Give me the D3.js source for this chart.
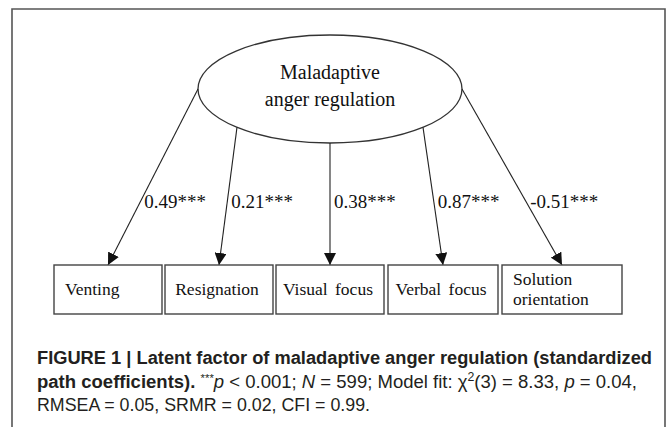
<!DOCTYPE html>
<html><head><meta charset="utf-8">
<script src="https://cdn.jsdelivr.net/npm/d3@7"></script>
<style>html,body{margin:0;padding:0;background:#fff;} svg{display:block;}</style>
</head><body><svg id="c" width="670" height="427"></svg>
<script>
// ---------- data ----------
const latentLabel = ["Maladaptive", "anger regulation"];
const indicators = ["Venting", "Resignation", "Visual focus", "Verbal focus", "Solution orientation"];
const coefficients = [0.49, 0.21, 0.38, 0.87, -0.51];
const significance = ["***", "***", "***", "***", "***"];
const captionLine1 = "FIGURE 1 | Latent factor of maladaptive anger regulation (standardized";
const captionLine3 = "RMSEA = 0.05, SRMR = 0.02, CFI = 0.99.";

// ---------- layout ----------
const svg = d3.select("#c");
const serif = "'Liberation Serif','Times New Roman',serif";
const sans = "'Liberation Sans',Arial,Helvetica,sans-serif";

const ell = {cx: 330, cy: 89, rx: 132, ry: 54};
const boxTop = 265, boxBottom = 314;
const labelY = 208;

const xCenter = d3.scaleOrdinal().domain(indicators).range([108, 219, 330, 443, 562]);
const boxW = d3.scaleOrdinal().domain(indicators).range([108, 108, 108, 110, 120]);
const startAngle = d3.scaleOrdinal().domain(indicators).range([180, 134.8, 90, 45.2, 0]);
const textAnchor = d3.scaleOrdinal().domain(indicators).range(["start", "middle", "middle", "middle", "start"]);
const fmt = d3.formatLocale({decimal: ".", thousands: ",", grouping: [3], currency: ["", ""], minus: "-"}).format(".2f");

// outer frame
svg.append("path")
  .attr("d", "M12,440V9H665V440")
  .attr("fill", "none").attr("stroke", "#555").attr("stroke-width", 1.6);

// arrow marker
svg.append("defs").append("marker")
  .attr("id", "ah").attr("viewBox", "0 -6 12 12")
  .attr("refX", 12).attr("refY", 0)
  .attr("markerWidth", 12).attr("markerHeight", 12)
  .attr("markerUnits", "userSpaceOnUse")
  .attr("orient", "auto")
  .append("path").attr("d", "M0,-6L12,0L0,6Z").attr("fill", "#111");

// latent ellipse
svg.append("ellipse")
  .attr("cx", ell.cx).attr("cy", ell.cy).attr("rx", ell.rx).attr("ry", ell.ry)
  .attr("fill", "#fff").attr("stroke", "#333").attr("stroke-width", 1.3);

svg.selectAll("text.lat").data(latentLabel).join("text")
  .attr("class", "lat")
  .attr("x", ell.cx).attr("y", (d, i) => 79 + i * 27)
  .attr("text-anchor", "middle")
  .attr("font-family", serif).attr("font-size", 20).attr("fill", "#111")
  .text(d => d);

const paths = indicators.map((name, i) => {
  const a = startAngle(name) * Math.PI / 180;
  const x0 = ell.cx + ell.rx * Math.cos(a), y0 = ell.cy + ell.ry * Math.sin(a);
  const x1 = xCenter(name), y1 = boxTop;
  return {name, x0, y0, x1, y1, coef: coefficients[i], sig: significance[i]};
});

// arrows
svg.selectAll("line.path").data(paths).join("line")
  .attr("class", "path")
  .attr("x1", d => d.x0).attr("y1", d => d.y0)
  .attr("x2", d => d.x1).attr("y2", d => d.y1)
  .attr("stroke", "#222").attr("stroke-width", 1.1)
  .attr("marker-end", "url(#ah)");

// coefficient labels
svg.selectAll("text.coef").data(paths).join("text")
  .attr("class", "coef")
  .attr("x", d => d.x0 + (d.x1 - d.x0) * (labelY - 6 - d.y0) / (d.y1 - d.y0) + 4)
  .attr("y", labelY)
  .attr("font-family", serif).attr("font-size", 19).attr("fill", "#111")
  .text(d => fmt(d.coef) + d.sig);

// indicator boxes
const g = svg.selectAll("g.box").data(indicators).join("g").attr("class", "box");
g.append("rect")
  .attr("x", d => xCenter(d) - boxW(d) / 2).attr("y", boxTop)
  .attr("width", d => boxW(d)).attr("height", boxBottom - boxTop)
  .attr("fill", "#fff").attr("stroke", "#444").attr("stroke-width", 1.4);
g.each(function(d) {
  const words = d === "Solution orientation" ? ["Solution", "orientation"] : [d];
  const anchor = textAnchor(d);
  const x = anchor === "middle" ? xCenter(d) - 2 : xCenter(d) - boxW(d) / 2 + 11;
  const y0 = words.length === 1 ? 295 : 285;
  d3.select(this).selectAll("text").data(words).join("text")
    .attr("x", x).attr("y", (w, i) => y0 + i * 20)
    .attr("text-anchor", anchor)
    .attr("font-family", serif).attr("font-size", 17.5).attr("fill", "#111")
    .attr("word-spacing", 3)
    .text(w => w);
});

// caption
const cap = svg.append("g").attr("fill", "#231f20").attr("font-family", sans);
cap.append("text").attr("x", 37).attr("y", 364)
  .attr("font-size", 18).attr("font-weight", "bold")
  .attr("textLength", 615).attr("lengthAdjust", "spacingAndGlyphs")
  .text(captionLine1);

const l2 = cap.append("text").attr("x", 37).attr("y", 388).attr("font-size", 18)
  .attr("textLength", 600).attr("lengthAdjust", "spacingAndGlyphs");
l2.append("tspan").attr("font-weight", "bold").text("path coefficients).");
l2.append("tspan").text(" ");
l2.append("tspan").attr("font-size", 11).attr("dy", -6).text("***");
l2.append("tspan").attr("font-style", "italic").attr("dy", 6).text("p");
l2.append("tspan").text(" < 0.001; ");
l2.append("tspan").attr("font-style", "italic").text("N");
l2.append("tspan").text(" = 599; Model fit: χ");
l2.append("tspan").attr("font-size", 12).attr("dy", -7).text("2");
l2.append("tspan").attr("dy", 7).text("(3) = 8.33, ");
l2.append("tspan").attr("font-style", "italic").text("p");
l2.append("tspan").text(" = 0.04,");

cap.append("text").attr("x", 37).attr("y", 411).attr("font-size", 18)
  .attr("textLength", 333).attr("lengthAdjust", "spacingAndGlyphs")
  .text(captionLine3);
</script></body></html>
